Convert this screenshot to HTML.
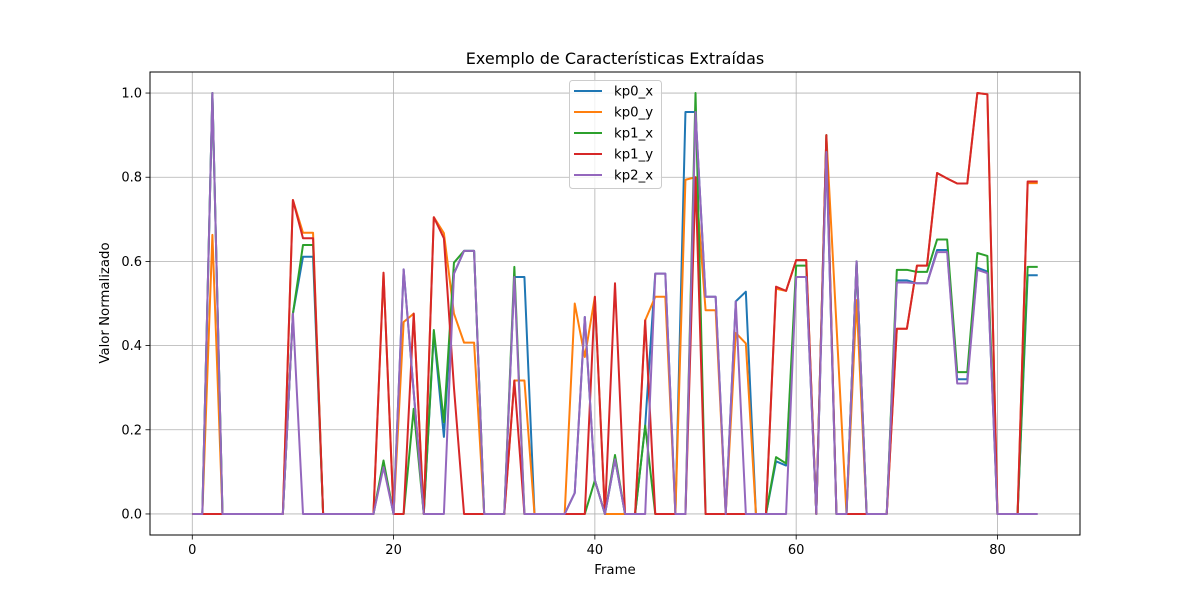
<!DOCTYPE html>
<html><head><meta charset="utf-8"><style>
html,body{margin:0;padding:0;background:#fff;}
svg{display:block;font-family:"DejaVu Sans","Liberation Sans",sans-serif;}
</style></head><body>
<svg id="chart" width="1200" height="600" viewBox="0 0 1200 600">
<rect x="0" y="0" width="1200" height="600" fill="#fff"/>
<g id="grid"></g>
<g id="series"></g>
<rect x="150" y="72" width="930" height="463" fill="none" stroke="#000" stroke-width="1"/>
<g id="ticks"></g>
<text x="615" y="64" text-anchor="middle" font-size="16">Exemplo de Características Extraídas</text>
<text x="615" y="574" text-anchor="middle" font-size="13.3">Frame</text>
<text x="109" y="303" text-anchor="middle" font-size="13.3" transform="rotate(-90 109 303)">Valor Normalizado</text>
<g id="legend"></g>
</svg>
<script>
const names = ["kp0_x","kp0_y","kp1_x","kp1_y","kp2_x"];
const colors = ["#1f77b4","#ff7f0e","#2ca02c","#d62728","#9467bd"];
const xTicks = [0,20,40,60,80];
const yTicks = [0,0.2,0.4,0.6,0.8,1.0];
const yTickLabels = ["0.0","0.2","0.4","0.6","0.8","1.0"];
const kp0_x = [0,0,1,0,0,0,0,0,0,0,.476,.611,.611,0,0,0,0,0,0,.12,0,.581,.29,0,.43,.183,.571,.625,.625,0,0,0,.563,.563,0,0,0,0,.05,.468,.08,0,.13,0,0,.21,.571,.571,0,.955,.955,.516,.516,0,.505,.528,0,0,.125,.115,.563,.563,0,.86,0,0,.6,0,0,0,.555,.555,.548,.548,.627,.627,.32,.32,.585,.576,0,0,0,.567,.567];
const kp0_y = [0,0,.663,0,0,0,0,0,0,0,.746,.668,.668,0,0,0,0,0,0,.573,0,.456,.476,0,.705,.667,.476,.407,.407,0,0,0,.317,.317,0,0,0,0,.5,.373,.516,0,0,0,0,.46,.516,.516,0,.794,.8,.484,.484,0,.43,.405,0,0,.535,.53,.603,.603,0,.9,.45,0,.508,0,0,0,.44,.44,.59,.59,.81,.797,.785,.785,1,.997,0,0,0,.786,.786];
const kp1_x = [0,0,1,0,0,0,0,0,0,0,.476,.639,.639,0,0,0,0,0,0,.127,0,0,.25,0,.437,.218,.597,.625,.625,0,0,0,.587,0,0,0,0,0,0,0,.08,0,.14,0,0,.21,0,0,0,0,1,0,0,0,0,0,0,0,.135,.12,.59,.59,0,.9,0,0,.6,0,0,0,.58,.58,.575,.575,.652,.652,.337,.337,.62,.613,0,0,0,.587,.587];
const kp1_y = [0,0,0,0,0,0,0,0,0,0,.746,.655,.655,0,0,0,0,0,0,.573,0,0,.476,0,.705,.655,.3,0,0,0,0,0,.317,0,0,0,0,0,0,0,.516,0,.548,0,0,.46,0,0,0,0,.8,0,0,0,0,0,0,0,.54,.53,.603,.603,0,.9,0,0,0,0,0,0,.44,.44,.59,.59,.81,.797,.785,.785,1,.997,0,0,0,.79,.79];
const kp2_x = [0,0,1,0,0,0,0,0,0,0,.476,0,0,0,0,0,0,0,0,.111,0,.581,.29,0,0,0,.571,.625,.625,0,0,0,.563,0,0,0,0,0,.05,.468,.08,0,.13,0,0,0,.571,.571,0,0,.955,.516,.516,0,.505,0,0,0,0,0,.563,.563,0,.86,0,0,.6,0,0,0,.55,.55,.548,.548,.622,.622,.31,.31,.58,.572,0,0,0,0,0];
const seriesData = [kp0_x,kp0_y,kp1_x,kp1_y,kp2_x];

const NS="http://www.w3.org/2000/svg";
const L=150,R=1080,T=72,B=535;
const xMin=-4.2,xMax=88.2,yMin=-0.05,yMax=1.05;
function xs(v){return L+(v-xMin)/(xMax-xMin)*(R-L);}
function ys(v){return B-(v-yMin)/(yMax-yMin)*(B-T);}
function mk(tag,attrs,parent){const e=document.createElementNS(NS,tag);for(const k in attrs)e.setAttribute(k,attrs[k]);parent.appendChild(e);return e;}
const grid=document.getElementById('grid'),ticks=document.getElementById('ticks'),sg=document.getElementById('series'),lg=document.getElementById('legend');
xTicks.forEach(t=>{
  const x=xs(t);
  const g=mk('line',{x1:x,x2:x,y1:T,y2:B,stroke:'#b0b0b0','stroke-width':0.8},grid);
  
  
  const tk=mk('line',{x1:x,x2:x,y1:B,y2:B+4.5,stroke:'#000','stroke-width':0.8},ticks);
  
  
  const tx=mk('text',{x:x,y:B+19,'text-anchor':'middle','font-size':13},ticks);
  
  
  tx.textContent=t;
});
yTicks.forEach((t,i)=>{
  const y=ys(t);
  const g=mk('line',{x1:L,x2:R,y1:y,y2:y,stroke:'#b0b0b0','stroke-width':0.8},grid);
  
  
  const tk=mk('line',{x1:L-4.5,x2:L,y1:y,y2:y,stroke:'#000','stroke-width':0.8},ticks);
  
  
  const tx=mk('text',{x:L-8,y:y+4.5,'text-anchor':'end','font-size':13},ticks);
  
  
  tx.textContent=yTickLabels[i];
});
seriesData.forEach((arr,si)=>{
  const pts=arr.map((v,i)=>xs(i).toFixed(2)+','+ys(v).toFixed(2)).join(' ');
  const p=mk('polyline',{points:pts,fill:'none',stroke:colors[si],'stroke-width':2,'stroke-linejoin':'round'},sg);
  
  
});
const box=mk('rect',{x:569.5,y:80.5,width:92,height:108,rx:3,fill:'#fff','fill-opacity':0.8,stroke:'#cccccc','stroke-width':1},lg);


names.forEach((n,i)=>{
  const y=91+i*21;
  const ln=mk('line',{x1:574,x2:602,y1:y,y2:y,stroke:colors[i],'stroke-width':2},lg);
  
  
  const tx=mk('text',{x:614,y:y+4.5,'font-size':13.3},lg);
  
  
  tx.textContent=n;
});
</script>
</body></html>
